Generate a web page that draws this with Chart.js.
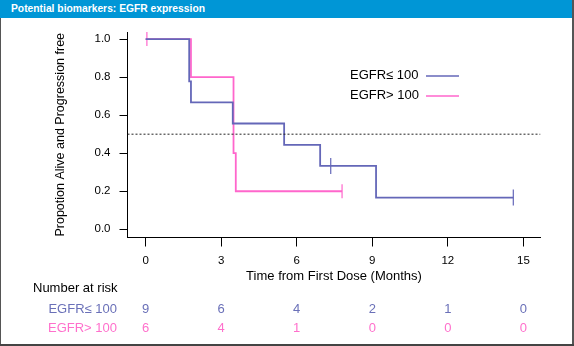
<!DOCTYPE html>
<html>
<head>
<meta charset="utf-8">
<script src="https://cdn.jsdelivr.net/npm/chart.js@4"></script>
<style>
  html, body { margin: 0; padding: 0; background: #fff; }
  #wrap { position: relative; width: 574px; height: 346px; overflow: hidden; }
  #c { position: absolute; left: 0; top: 0; }
  #title { position: absolute; left: 0; top: 0; width: 574px; height: 18px; background: #0096d6;
           color: #fff; font: bold 10.3px "Liberation Sans", Arial, sans-serif; line-height: 18px;
           padding-left: 11px; box-sizing: border-box; white-space: nowrap; }
  #bl { position: absolute; left: 0; top: 18px; width: 1px; height: 328px; background: #555; }
  #br { position: absolute; right: 0; top: 0; width: 2px; height: 346px; background: #555; }
  #bb { position: absolute; left: 0; bottom: 0; width: 574px; height: 2px; background: #444; }
</style>
</head>
<body>
<div id="wrap">
  <canvas id="c" width="574" height="346"></canvas>
  <div id="title">Potential biomarkers: EGFR expression</div>
  <div id="bl"></div><div id="br"></div><div id="bb"></div>
</div>
<script>
// ---- data ----
const seriesNames = ["EGFR\u2264 100", "EGFR> 100"];
const lowTimes = [0, 1.73, 1.8, 3.46, 5.5, 6.93, 9.15, 14.6];
const lowSurv  = [1.0, 0.778, 0.667, 0.556, 0.444, 0.333, 0.167, 0.167];
const lowCensorTimes = [7.35, 14.6];
const lowCensorSurv  = [0.333, 0.167];
const highTimes = [0, 1.8, 3.49, 3.58, 7.8];
const highSurv  = [1.0, 0.8, 0.4, 0.2, 0.2];
const highCensorTimes = [0.05, 7.8];
const highCensorSurv  = [1.0, 0.2];
const refLineY = 0.5;
const xTicks = [0, 3, 6, 9, 12, 15];
const yTicks = [0.0, 0.2, 0.4, 0.6, 0.8, 1.0];
const yTickLabels = ["0.0", "0.2", "0.4", "0.6", "0.8", "1.0"];
const riskLow  = [9, 6, 4, 2, 1, 0];
const riskHigh = [6, 4, 1, 0, 0, 0];
const xMin = -0.72, xMax = 15.68, yMin = -0.043, yMax = 1.037;

const FONT = '"Liberation Sans", Arial, sans-serif';
const BLUE = '#6467b8';
const PINK = '#ff66cc';
const BLUE_T = '#6a70b8';
const PINK_T = '#ff70cc';

const pts = (xs, ys) => xs.map((x, i) => ({x, y: ys[i]}));

const extras = {
  id: 'extras',
  afterDraw(chart) {
    const ctx = chart.ctx;
    const xs = chart.scales.x;
    ctx.save();
    // legend
    ctx.font = '13px ' + FONT;
    ctx.textBaseline = 'middle';
    ctx.textAlign = 'left';
    const leg = [[seriesNames[0], BLUE, 75.5], [seriesNames[1], PINK, 95.5]];
    leg.forEach(([t, c, y]) => {
      ctx.fillStyle = '#000';
      ctx.fillText(t, 350, y);
      ctx.strokeStyle = c; ctx.lineWidth = 1.5;
      ctx.beginPath(); ctx.moveTo(426, y + 0.5); ctx.lineTo(459, y + 0.5); ctx.stroke();
    });
    // number at risk
    ctx.fillStyle = '#000';
    ctx.fillText('Number at risk', 33, 288);
    ctx.textAlign = 'right';
    ctx.fillStyle = BLUE_T; ctx.fillText(seriesNames[0], 117, 309);
    ctx.fillStyle = PINK_T; ctx.fillText(seriesNames[1], 117, 328);
    ctx.textAlign = 'center';
    xTicks.forEach((t, i) => {
      const px = xs.getPixelForValue(t);
      ctx.fillStyle = BLUE_T; ctx.fillText(String(riskLow[i]), px, 309);
      ctx.fillStyle = PINK_T; ctx.fillText(String(riskHigh[i]), px, 328);
    });
    ctx.restore();
  }
};

new Chart(document.getElementById('c'), {
  type: 'line',
  data: {
    datasets: [
      { data: [{x: xMin, y: refLineY}, {x: xMax, y: refLineY}], borderColor: '#222', borderWidth: 1,
        borderDash: [2, 2], pointRadius: 0, fill: false },
      { label: seriesNames[0], data: pts(lowTimes, lowSurv), stepped: true, borderColor: BLUE,
        borderWidth: 1.8, pointRadius: 0, fill: false },
      { label: seriesNames[1], data: pts(highTimes, highSurv), stepped: true, borderColor: PINK,
        borderWidth: 1.8, pointRadius: 0, fill: false },
      { data: pts(lowCensorTimes, lowCensorSurv), showLine: false, pointStyle: 'line', rotation: 90,
        pointRadius: 8, borderColor: BLUE, borderWidth: 1.2 },
      { data: pts(highCensorTimes, highCensorSurv), showLine: false, pointStyle: 'line', rotation: 90,
        pointRadius: 7, borderColor: PINK, borderWidth: 1.2 }
    ]
  },
  options: {
    responsive: false,
    animation: false,
    events: [],
    layout: { padding: { top: 32, right: 33.5, left: 48, bottom: 0 } },
    plugins: { legend: { display: false }, tooltip: { enabled: false } },
    scales: {
      x: {
        type: 'linear', min: xMin, max: xMax,
        afterBuildTicks: (s) => { s.ticks = xTicks.map(v => ({value: v})); },
        afterFit: (s) => { s.height = 346 - 237.5; },
        grid: { display: true, drawOnChartArea: false, drawTicks: true, tickLength: 9, color: '#000', lineWidth: 1 },
        border: { display: true, color: '#000', width: 1 },
        ticks: { color: '#000', font: { family: FONT, size: 11.5 }, padding: 7, maxRotation: 0,
                 callback: (v) => String(v) },
        title: { display: true, text: 'Time from First Dose (Months)', color: '#000',
                 font: { family: FONT, size: 13 }, padding: { top: 0, bottom: 62 } }
      },
      y: {
        type: 'linear', min: yMin, max: yMax,
        afterBuildTicks: (s) => { s.ticks = yTicks.map(v => ({value: v})); },
        afterFit: (s) => { s.width = 127.5 - 48; },
        grid: { display: true, drawOnChartArea: false, drawTicks: true, tickLength: 8, color: '#000', lineWidth: 1 },
        border: { display: true, color: '#000', width: 1 },
        ticks: { color: '#000', font: { family: FONT, size: 11.5 }, padding: 9,
                 callback: (v, i) => yTickLabels[i] },
        title: { display: true, text: 'Propotion Alive and Progression free', color: '#000',
                 font: { family: FONT, size: 12.5 }, padding: { top: 5.5, bottom: 0 } }
      }
    }
  },
  plugins: [extras]
});
</script>
</body>
</html>
